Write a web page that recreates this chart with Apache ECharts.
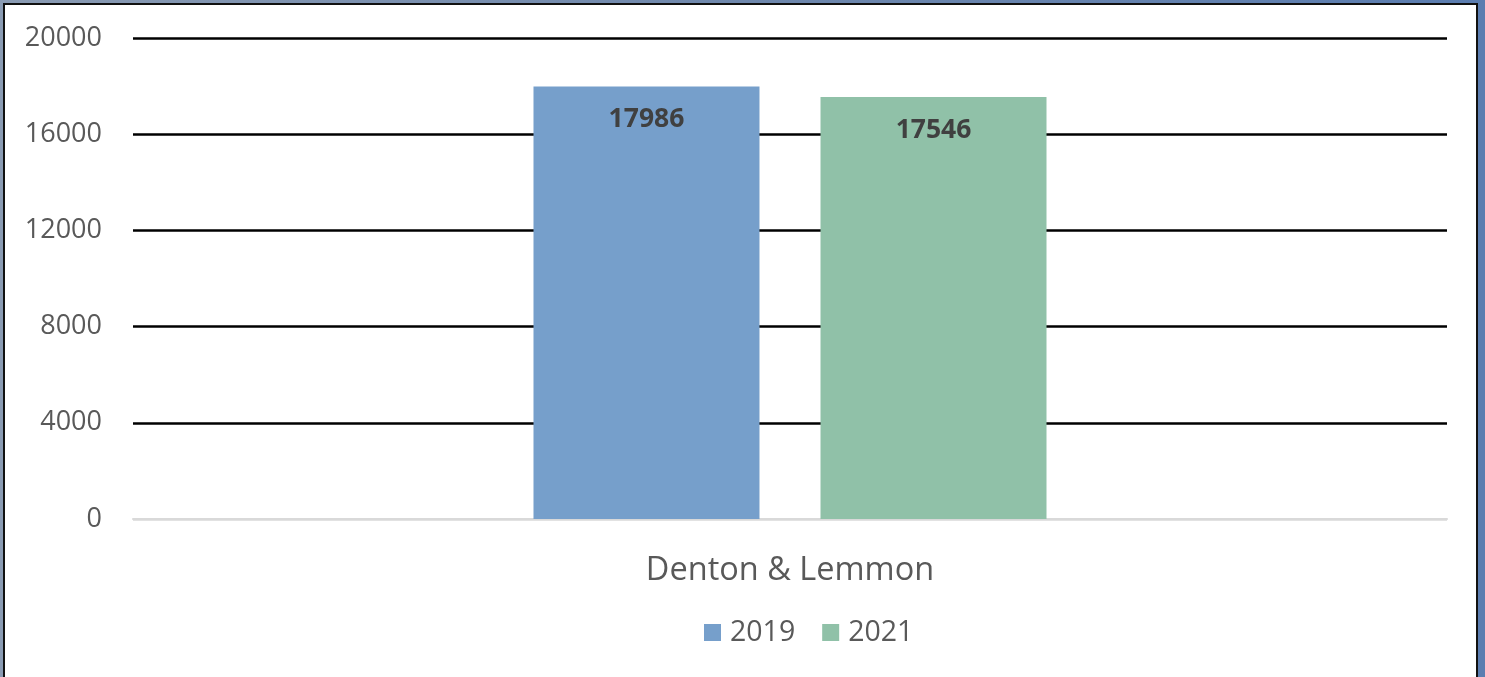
<!DOCTYPE html>
<html>
<head>
<meta charset="utf-8">
<script src="https://cdn.jsdelivr.net/npm/echarts@6/dist/echarts.min.js"></script>
<style>
  html, body { margin: 0; padding: 0; width: 1485px; height: 677px; overflow: hidden; }
  body { background: linear-gradient(90deg, #8a9bb3 0%, #6f88ad 50%, #5b7db0 100%); position: relative; }
  #panel { position: absolute; left: 3px; top: 3px; width: 1475px; height: 720px;
           background: #fff; border: 2px solid #111; box-sizing: border-box; }
  #main { position: absolute; left: 0; top: 0; width: 1485px; height: 677px; }
</style>
</head>
<body>
<div id="panel"></div>
<div id="main"></div>
<script>
// 数据
var categories = ["Denton & Lemmon"];
var seriesNames = ["2019", "2021"];
var values2019 = [17986];
var values2021 = [17546];
var yTicks = [0, 4000, 8000, 12000, 16000, 20000];

var myChart = echarts.init(document.getElementById("main"));
var fontName = "Open Sans";

var labelStyle = {
  show: true,
  position: "insideTop",
  distance: 20,
  fontFamily: fontName,
  fontWeight: "bold",
  fontSize: 26.5,
  color: "#404040"
};

var option = {
  animation: false,
  textStyle: { fontFamily: fontName },
  grid: { left: 133, right: 38, top: 38, bottom: 158 },
  legend: {
    data: seriesNames,
    bottom: 25,
    left: 699,
    icon: "rect",
    itemWidth: 17,
    itemHeight: 17,
    itemGap: 27,
    textStyle: { fontSize: 28.5, color: "#595959", fontFamily: fontName, padding: [0, 0, 0, 4] }
  },
  xAxis: {
    type: "category",
    data: categories,
    axisTick: { show: false },
    axisLine: { lineStyle: { color: "#d9d9d9", width: 2 } },
    axisLabel: { fontSize: 32.5, color: "#595959", margin: 35, fontFamily: fontName }
  },
  yAxis: {
    type: "value",
    min: yTicks[0],
    max: yTicks[yTicks.length - 1],
    interval: 4000,
    axisLine: { show: false },
    axisTick: { show: false },
    axisLabel: {
      fontSize: 27,
      color: "#595959",
      margin: 31,
      fontFamily: fontName,
      formatter: function (v) { return String(v); }
    },
    splitLine: {
      //零线为浅灰色，其余为黑色
      lineStyle: { color: ["#d9d9d9", "#000", "#000", "#000", "#000", "#000"], width: 2.5 }
    }
  },
  series: [
    {
      name: seriesNames[0],
      type: "bar",
      data: values2019,
      barWidth: 226,
      barGap: "27%",
      itemStyle: { color: "#769fcb" },
      label: labelStyle
    },
    {
      name: seriesNames[1],
      type: "bar",
      data: values2021,
      barWidth: 226,
      itemStyle: { color: "#90c1a8" },
      label: labelStyle
    }
  ]
};

myChart.setOption(option);
</script>
</body>
</html>
